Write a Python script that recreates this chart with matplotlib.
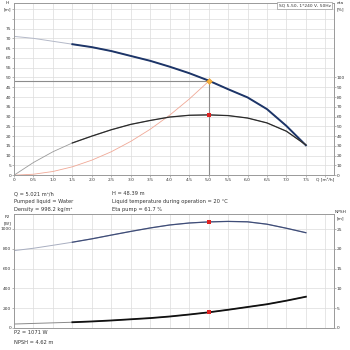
import numpy as np
import matplotlib.pyplot as plt

# pump curves
q = [0, 0.5, 1.0, 1.5, 2.0, 2.5, 3.0, 3.5, 4.0, 4.5, 5.0, 5.5, 6.0, 6.5, 7.0, 7.5]
head = [71, 70, 68.5, 67, 65.5, 63.5, 61, 58.5, 55.5, 52.2, 48.4, 44, 39.8, 33.8, 25.2, 15.3]
eta = [0, 13, 24, 33, 40, 46.5, 52, 56, 59.5, 61.3, 61.7, 61, 58.5, 53.5, 45, 31]
p2 = [781, 805, 835, 866, 900, 938, 975, 1010, 1040, 1060, 1071, 1076, 1072, 1048, 1007, 962]
npsh = [1.0, 1.15, 1.3, 1.45, 1.65, 1.9, 2.2, 2.5, 2.9, 3.4, 3.95, 4.6, 5.3, 6.0, 6.9, 7.9]

# system curve
q_sys = [0, 0.5, 1.0, 1.5, 2.0, 2.5, 3.0, 3.5, 4.0, 4.5, 5.021]
h_sys = [0, 0.5, 1.9, 4.3, 7.7, 12.0, 17.3, 23.5, 30.7, 38.9, 48.39]

# duty point
q_op = 5.021
h_op = 48.39
eta_op = 61.7
p2_op = 1071
npsh_op = 3.95

x_ticks = [0, 0.5, 1.0, 1.5, 2.0, 2.5, 3.0, 3.5, 4.0, 4.5, 5.0, 5.5, 6.0, 6.5, 7.0, 7.5, 8.0]
x_labels = ["0", "0.5", "1.0", "1.5", "2.0", "2.5", "3.0", "3.5", "4.0", "4.5",
            "5.0", "5.5", "6.0", "6.5", "7.0", "7.5", "Q [m³/h]"]

q = np.array(q)
split = q >= 1.5
fs = 3.2
ft = 3.7
grid_c = "#dcdcdc"
spine_c = "#9a9a9a"
txt_c = "#333333"


def style(ax):
    for s in ax.spines.values():
        s.set_color(spine_c)
        s.set_linewidth(0.6)
    ax.tick_params(labelsize=fs, length=1.5, width=0.5, pad=0.5, colors=txt_c)
    ax.tick_params(color=spine_c)


fig = plt.figure(figsize=(3.5, 3.5), dpi=100)

# ---- top: H / eta
ax1 = fig.add_axes([0.040, 0.4994, 0.914, 0.4916])
ax1.set_xlim(0, 8.22)
ax1.set_ylim(0, 88)
ax1.set_xticks(x_ticks)
ax1.set_xticklabels(x_labels)
ax1.set_yticks(range(0, 90, 5))
ax1.set_yticklabels([str(v) if v <= 75 else "" for v in range(0, 90, 5)])
ax1.grid(True, color=grid_c, lw=0.5)
ax1.set_axisbelow(True)
style(ax1)

ax1b = ax1.twinx()
ax1b.set_ylim(0, 176)
ax1b.set_yticks(range(0, 101, 10))
style(ax1b)

ax1.plot([0, q_op], [h_op, h_op], color="#8c8c8c", lw=0.8)
ax1.plot([q_op, q_op], [0, h_op], color="#8c8c8c", lw=0.8)

ax1.plot(q, head, color="#b4b9c8", lw=0.7)
ax1.plot(q[split], np.array(head)[split], color="#1d3568", lw=1.4)
ax1b.plot(q, eta, color="#9a9a9a", lw=0.6)
ax1b.plot(q[split], np.array(eta)[split], color="#2b2b2b", lw=0.9)
ax1.plot(q_sys, h_sys, color="#f0a896", lw=0.6)

ax1.plot([q_op], [h_op], marker="D", ms=3, color="#f5b13d", mec="#e89a2a", mew=0.4)
ax1b.plot([q_op], [eta_op], marker="s", ms=2.4, color="#e02020", mew=0)

fig.text(0.022, 0.997, "H", fontsize=fs, ha="center", va="top", color=txt_c)
fig.text(0.022, 0.980, "[m]", fontsize=fs, ha="center", va="top", color=txt_c)
fig.text(0.972, 0.997, "eta", fontsize=fs, ha="center", va="top", color=txt_c)
fig.text(0.972, 0.980, "[%]", fontsize=fs, ha="center", va="top", color=txt_c)
fig.text(0.944, 0.990, "SQ 5-50, 1*240 V, 50Hz", fontsize=fs, ha="right", va="top",
         color=txt_c, bbox=dict(boxstyle="square,pad=0.35", fc="white", ec=spine_c, lw=0.5))

# ---- info text
fig.text(0.040, 1 - 193.5 / 350, "Q = 5.021 m³/h", fontsize=ft, va="center", color=txt_c)
fig.text(0.040, 1 - 201.5 / 350, "Pumped liquid = Water", fontsize=ft, va="center", color=txt_c)
fig.text(0.040, 1 - 209.5 / 350, "Density = 998.2 kg/m³", fontsize=ft, va="center", color=txt_c)
fig.text(0.320, 1 - 193.5 / 350, "H = 48.39 m", fontsize=ft, va="center", color=txt_c)
fig.text(0.320, 1 - 201.5 / 350, "Liquid temperature during operation = 20 °C", fontsize=ft,
         va="center", color=txt_c)
fig.text(0.320, 1 - 209.5 / 350, "Eta pump = 61.7 %", fontsize=ft, va="center", color=txt_c)

# ---- bottom: P2 / NPSH
ax2 = fig.add_axes([0.040, 0.0629, 0.914, 0.3257])
ax2.set_xlim(0, 8.22)
ax2.set_ylim(0, 1151)
ax2.set_xticks(x_ticks)
ax2.set_xticklabels([])
ax2.set_yticks(range(0, 1001, 200))
ax2.grid(True, color=grid_c, lw=0.5)
ax2.set_axisbelow(True)
style(ax2)
ax2.tick_params(axis="x", length=0)

ax2b = ax2.twinx()
ax2b.set_ylim(0, 28.8)
ax2b.set_yticks(range(0, 26, 5))
style(ax2b)

ax2.plot(q, p2, color="#a8aec0", lw=0.7)
ax2.plot(q[split], np.array(p2)[split], color="#3f4d78", lw=0.9)
ax2b.plot(q, npsh, color="#8a8a8a", lw=0.7)
ax2b.plot(q[split], np.array(npsh)[split], color="#111111", lw=1.3)

ax2.plot([q_op], [p2_op], marker="s", ms=2.4, color="#e02020", mew=0)
ax2b.plot([q_op], [npsh_op], marker="s", ms=2.4, color="#e02020", mew=0)

fig.text(0.022, 1 - 217 / 350, "P2", fontsize=fs, ha="center", va="center", color=txt_c)
fig.text(0.022, 1 - 223 / 350, "[W]", fontsize=fs, ha="center", va="center", color=txt_c)
fig.text(0.972, 1 - 212 / 350, "NPSH", fontsize=fs, ha="center", va="center", color=txt_c)
fig.text(0.972, 1 - 218.5 / 350, "[m]", fontsize=fs, ha="center", va="center", color=txt_c)

fig.text(0.040, 1 - 333 / 350, "P2 = 1071 W", fontsize=ft, va="center", color=txt_c)
fig.text(0.040, 1 - 342 / 350, "NPSH = 4.62 m", fontsize=ft, va="center", color=txt_c)

fig.savefig("out.png", dpi=100)
